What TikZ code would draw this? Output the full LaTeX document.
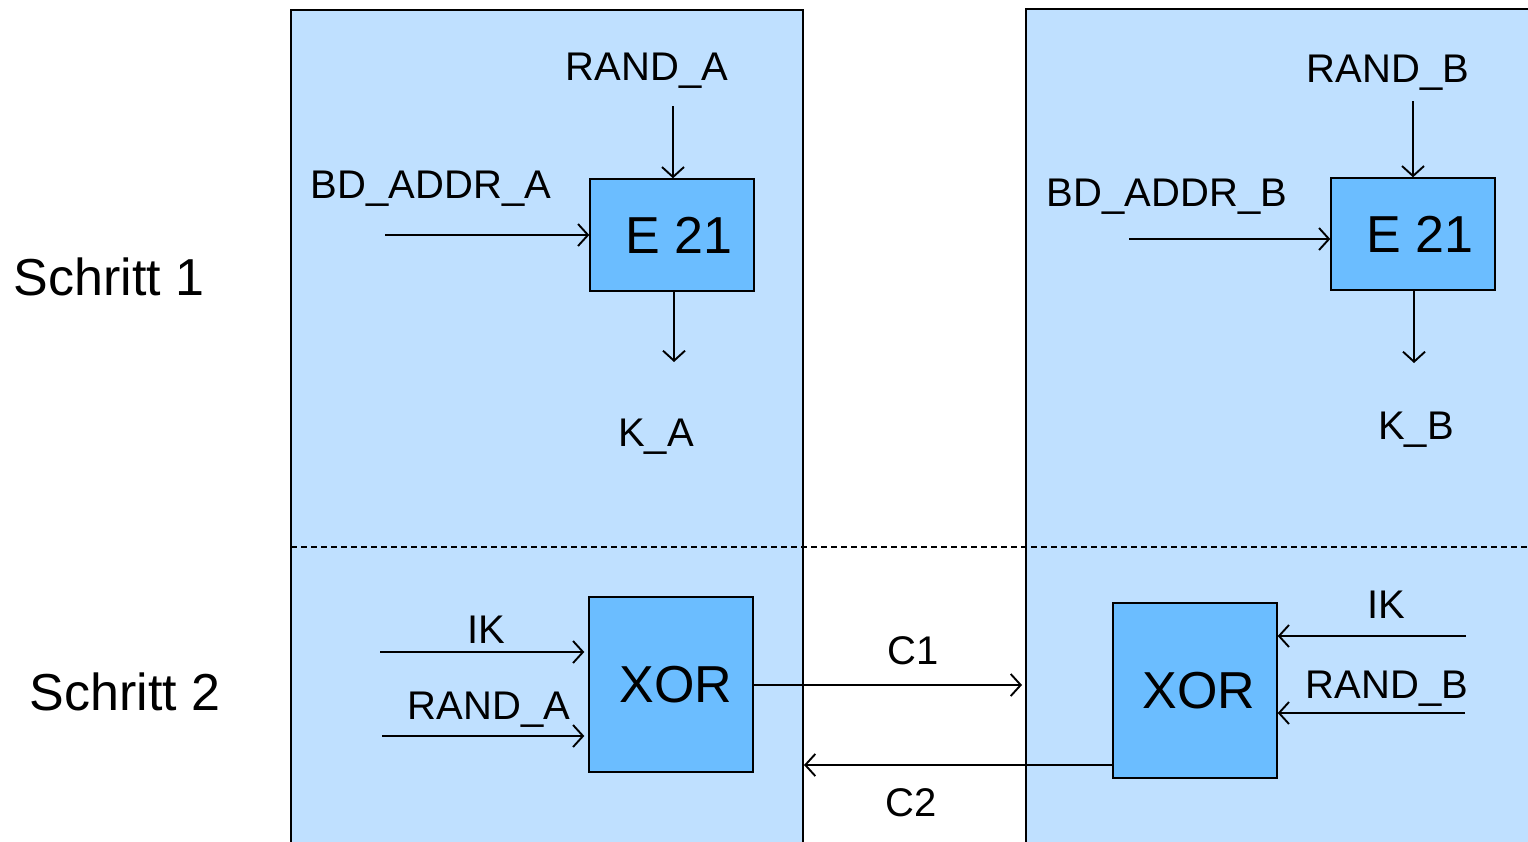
\documentclass[tikz,border=0pt]{standalone}
\usepackage{fontspec}
\setmainfont{Liberation Sans}
\usetikzlibrary{arrows.meta}
\definecolor{panel}{HTML}{BFE0FF}
\definecolor{block}{HTML}{6BBDFF}
\tikzset{
  panelbox/.style={draw=black, line width=1.8pt, fill=panel},
  fnbox/.style={draw=black, line width=1.4pt, fill=block, minimum width=164pt, inner sep=0pt, font=\fontsize{52}{60}\selectfont},
  lbl/.style={inner sep=0pt, yshift=-3pt, font=\fontsize{40}{48}\selectfont},
  steplbl/.style={inner sep=0pt, font=\fontsize{52}{60}\selectfont},
  sig/.style={draw=black, line width=1.9pt, -{Straight Barb[length=10pt,width=22pt,line width=1.9pt]}},
}
\begin{document}
\begin{tikzpicture}[x=1pt,y=-1pt]
\useasboundingbox (0,0) rectangle (1528,841);
\clip (0,0) rectangle (1528,841);
\fill[white] (0,0) rectangle (1528,841);

% two station panels
\draw[panelbox] (291,10) rectangle (803,860);
\draw[panelbox] (1026,9) rectangle (1550,860);
\draw[line width=1.3pt, dash pattern=on 6pt off 4pt] (291,547) -- (1528,547);

% step captions
\node[steplbl] (s1) at (109,277) {Schritt 1};
\node[steplbl] (s2) at (125,692) {Schritt 2};

% step 1, station A
\node[fnbox, minimum height=112pt] (eA) at (672,235) {\hspace*{14pt}E 21};
\node[lbl] (randA) at (647,68) {RAND\_A};
\node[lbl] (bdA) at (431,186) {BD\_ADDR\_A};
\node[lbl] (kA) at (656,434) {K\_A};
\coordinate (randAin) at (673,106);
\coordinate (bdAin) at (385,235);
\coordinate (kAout) at (674,362);
\draw[sig] (randAin) -- (randAin |- eA.north);
\draw[sig] (bdAin) -- (bdAin -| eA.west);
\draw[sig] (kAout |- eA.south) -- (kAout);

% step 1, station B
\node[fnbox, minimum height=112pt] (eB) at (1413,234) {\hspace*{14pt}E 21};
\node[lbl] (randB) at (1388,70) {RAND\_B};
\node[lbl] (bdB) at (1167,194) {BD\_ADDR\_B};
\node[lbl] (kB) at (1416,427) {K\_B};
\coordinate (randBin) at (1413,101);
\coordinate (bdBin) at (1129,239);
\coordinate (kBout) at (1414,363);
\draw[sig] (randBin) -- (randBin |- eB.north);
\draw[sig] (bdBin) -- (bdBin -| eB.west);
\draw[sig] (kBout |- eB.south) -- (kBout);

% step 2, station A
\node[fnbox, minimum height=175pt] (xA) at (671,684.5) {\hspace*{10pt}XOR};
\node[lbl] (ikA) at (486,627) {IK};
\node[lbl] (rA2) at (489,707) {RAND\_A};
\coordinate (ikAin) at (380,652);
\coordinate (rA2in) at (382,736);
\draw[sig] (ikAin) -- ([xshift=-4pt]ikAin -| xA.west);
\draw[sig] (rA2in) -- ([xshift=-4pt]rA2in -| xA.west);

% step 2, station B
\node[fnbox, minimum height=175pt] (xB) at (1195,690.5) {\hspace*{8pt}XOR};
\node[lbl] (ikB) at (1386,602) {IK};
\node[lbl] (rB2) at (1387,686) {RAND\_B};
\coordinate (ikBin) at (1466,636);
\coordinate (rB2in) at (1465,713);
\draw[sig] (ikBin) -- (ikBin -| xB.east);
\draw[sig] (rB2in) -- (rB2in -| xB.east);

% exchange between the stations
\node[lbl] (c1) at (913,648) {C1};
\node[lbl] (c2) at (911,800) {C2};
\coordinate (c1end) at (1022,685);
\coordinate (c2end) at (804,765);
\draw[sig] (c1end -| xA.east) -- (c1end);
\draw[sig] (c2end -| xB.west) -- (c2end);
\end{tikzpicture}
\end{document}
